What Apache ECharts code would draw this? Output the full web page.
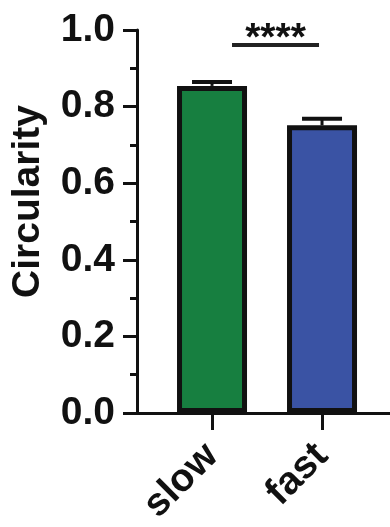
<!DOCTYPE html>
<html>
<head>
<meta charset="utf-8">
<script src="https://cdn.jsdelivr.net/npm/echarts@6/dist/echarts.min.js"></script>
<style>
  html, body { margin: 0; padding: 0; background: #fff; }
  #chart { width: 390px; height: 527px; }
</style>
</head>
<body>
<div id="chart"></div>
<script>
// data
const categories = ["slow", "fast"];
const means = [0.854, 0.751];
const sems = [0.010, 0.017];
const barColors = ["#177f40", "#3a53a4"];
const yTicks = [0, 0.2, 0.4, 0.6, 0.8, 1.0];
const sigPair = [0, 1];
const sigLevel = 0.961;
const sigText = "****";

const FONT = "'Liberation Sans', Arial, sans-serif";
const INK = "#111";

const chart = echarts.init(document.getElementById("chart"));

// category positions on a value axis so the axis line can run from the y axis to the edge
const positions = categories.map((c, i) => i);

chart.setOption({
    animation: false,
    grid: { left: 137, right: 0, top: 30, bottom: 114, outerBoundsMode: "none" },
    xAxis: {
        type: "value",
        min: -0.682,
        max: 1.618,
        splitLine: { show: false },
        axisLine: { show: true, onZero: false, lineStyle: { color: INK, width: 3 } },
        axisTick: { show: true, customValues: positions, length: 17, lineStyle: { color: INK, width: 3 } },
        axisLabel: {
            customValues: positions,
            formatter: (v) => categories[Math.round(v)],
            rotate: 45,
            margin: 37,
            fontSize: 39,
            fontWeight: "bold",
            fontFamily: FONT,
            color: INK
        }
    },
    yAxis: {
        type: "value",
        min: yTicks[0],
        max: yTicks[yTicks.length - 1],
        interval: 0.2,
        name: "Circularity",
        nameLocation: "middle",
        nameGap: 89,
        nameTextStyle: { fontSize: 39, fontWeight: "bold", fontFamily: FONT, color: INK, padding: [0, 0, 0, 40] },
        splitLine: { show: false },
        axisLine: { show: true, onZero: false, lineStyle: { color: INK, width: 3 } },
        axisTick: { show: true, length: 14, lineStyle: { color: INK, width: 3 } },
        minorTick: { show: true, splitNumber: 2, length: 7, lineStyle: { color: INK, width: 3 } },
        axisLabel: {
            margin: 22,
            fontSize: 39,
            fontWeight: "bold",
            fontFamily: FONT,
            color: INK,
            formatter: (v) => v.toFixed(1)
        }
    },
    series: [
        {
            type: "bar",
            barWidth: 70,
            z: 2,
            data: means.map((m, i) => ({
                value: [positions[i], m],
                itemStyle: { color: barColors[i], borderColor: INK, borderWidth: 5 }
            }))
        },
        {
            // error bars (upper only)
            type: "custom",
            z: 3,
            data: means.map((m, i) => [positions[i], m, sems[i]]),
            renderItem: (params, api) => {
                const x = api.value(0);
                const m = api.value(1);
                const s = api.value(2);
                const base = api.coord([x, m]);
                const top = api.coord([x, m + s]);
                return {
                    type: "group",
                    children: [
                        { type: "line", shape: { x1: base[0], y1: base[1], x2: top[0], y2: top[1] }, style: { stroke: INK, lineWidth: 3 } },
                        { type: "line", shape: { x1: top[0] - 20, y1: top[1], x2: top[0] + 20, y2: top[1] }, style: { stroke: INK, lineWidth: 4 } }
                    ]
                };
            }
        },
        {
            // significance line
            type: "custom",
            z: 3,
            data: [[positions[sigPair[0]], positions[sigPair[1]], sigLevel]],
            renderItem: (params, api) => {
                const a = api.coord([api.value(0), api.value(2)]);
                const b = api.coord([api.value(1), api.value(2)]);
                const x1 = a[0] + 20;
                const x2 = b[0] - 3;
                return {
                    type: "group",
                    children: [
                        { type: "line", shape: { x1: x1, y1: a[1], x2: x2, y2: a[1] }, style: { stroke: "#222", lineWidth: 4 } },
                        {
                            type: "text",
                            style: {
                                text: sigText,
                                x: (x1 + x2) / 2,
                                y: a[1] - 6,
                                align: "center",
                                verticalAlign: "middle",
                                font: "bold 39px " + FONT,
                                fill: INK
                            }
                        }
                    ]
                };
            }
        }
    ]
});
</script>
</body>
</html>
